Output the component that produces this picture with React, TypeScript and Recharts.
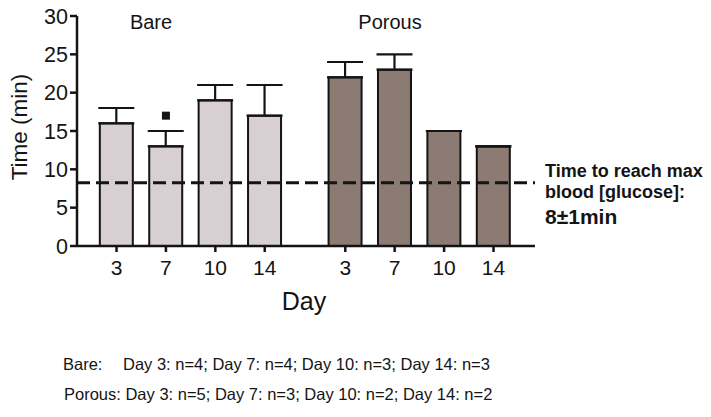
import {
  ComposedChart,
  Bar,
  Cell,
  ErrorBar,
  Scatter,
  XAxis,
  YAxis,
  ReferenceLine,
} from 'recharts';

const days = ['3', '7', '10', '14'];
const bareMean = [16, 13, 19, 17];
const bareSem = [2, 2, 2, 4];
const porousMean = [22, 23, 15, 13];
const porousSem = [2, 2, 0, 0];
// significance marker sits above Bare day 7
const bareMarker = [null, 17, null, null];
const glucoseLine = 8.25;
const yTicks = [0, 5, 10, 15, 20, 25, 30];

const bareNotes = 'Day 3: n=4; Day 7: n=4; Day 10: n=3; Day 14: n=3';
const porousNotes = 'Day 3: n=5; Day 7: n=3; Day 10: n=2; Day 14: n=2';

const GROUP_GAP = 0.63;
const font = '"Liberation Sans", Arial, Helvetica, sans-serif';

const rows = [
  ...days.map((d, i) => ({
    pos: i,
    day: d,
    group: 'bare',
    mean: bareMean[i],
    err: [0, bareSem[i]],
    marker: bareMarker[i],
  })),
  ...days.map((d, i) => ({
    pos: i + 4 + GROUP_GAP,
    day: d,
    group: 'porous',
    mean: porousMean[i],
    err: [0, porousSem[i]],
    marker: null,
  })),
];

const dayAt = (v: number) => {
  const r = rows.find((row) => Math.abs(row.pos - v) < 0.01);
  return r ? r.day : '';
};

const ink = '#141414';

export default function App() {
  return (
    <div
      style={{
        position: 'absolute',
        left: 0,
        top: 0,
        width: 711,
        height: 417,
        background: '#fff',
        fontFamily: font,
        color: ink,
      }}
    >
      <ComposedChart
        width={711}
        height={417}
        data={rows}
        margin={{ top: 16, right: 176, bottom: 141, left: 17 }}
      >
        <XAxis
          dataKey="pos"
          type="number"
          domain={[-0.8, 8.47]}
          ticks={rows.map((r) => r.pos)}
          tickFormatter={dayAt}
          interval={0}
          height={30}
          tickSize={6}
          tickMargin={8}
          stroke={ink}
          strokeWidth={2.5}
          tick={{ fill: ink, fontSize: 21, fontFamily: font }}
          allowDataOverflow
        />
        <YAxis
          domain={[0, 30]}
          ticks={yTicks}
          width={60}
          tickSize={7}
          tickMargin={2}
          stroke={ink}
          strokeWidth={2.5}
          tick={{ fill: ink, fontSize: 21.5, fontFamily: font }}
        />
        <Bar
          dataKey="mean"
          barSize={33}
          stroke={ink}
          strokeWidth={2}
          isAnimationActive={false}
        >
          {rows.map((r, i) => (
            <Cell key={i} fill={r.group === 'bare' ? '#d7cfd2' : '#8b7b73'} />
          ))}
          <ErrorBar dataKey="err" width={18} stroke={ink} strokeWidth={2.2} direction="y" />
        </Bar>
        <Scatter
          dataKey="marker"
          shape="square"
          fill={ink}
          isAnimationActive={false}
        />
        <ReferenceLine
          y={glucoseLine}
          stroke={ink}
          strokeWidth={3}
          strokeDasharray="13 6"
        />
      </ComposedChart>

      <div style={{ position: 'absolute', left: 151, top: 32, transform: 'translate(-50%, -100%)', fontSize: 20, lineHeight: 1 }}>
        Bare
      </div>
      <div style={{ position: 'absolute', left: 390, top: 32, transform: 'translate(-50%, -100%)', fontSize: 20, lineHeight: 1 }}>
        Porous
      </div>

      <div
        style={{
          position: 'absolute',
          left: 20,
          top: 127,
          transform: 'translate(-50%, -50%) rotate(-90deg)',
          fontSize: 22.5,
          whiteSpace: 'nowrap',
        }}
      >
        Time (min)
      </div>

      <div style={{ position: 'absolute', left: 304, top: 301, transform: 'translate(-50%, -50%)', fontSize: 25 }}>
        Day
      </div>

      <div
        style={{
          position: 'absolute',
          left: 545,
          top: 161,
          fontWeight: 700,
          whiteSpace: 'nowrap',
        }}
      >
        <div style={{ fontSize: 18, lineHeight: '21px' }}>Time to reach max</div>
        <div style={{ fontSize: 18, lineHeight: '21px' }}>blood [glucose]:</div>
        <div style={{ fontSize: 21, lineHeight: '26px', marginTop: 1 }}>8±1min</div>
      </div>

      <div style={{ position: 'absolute', left: 63, top: 355, fontSize: 16.5, whiteSpace: 'nowrap' }}>
        <span style={{ display: 'inline-block', width: 60 }}>Bare:</span>
        {bareNotes}
      </div>
      <div style={{ position: 'absolute', left: 64, top: 385, fontSize: 16.5, whiteSpace: 'nowrap' }}>
        Porous: {porousNotes}
      </div>
    </div>
  );
}
